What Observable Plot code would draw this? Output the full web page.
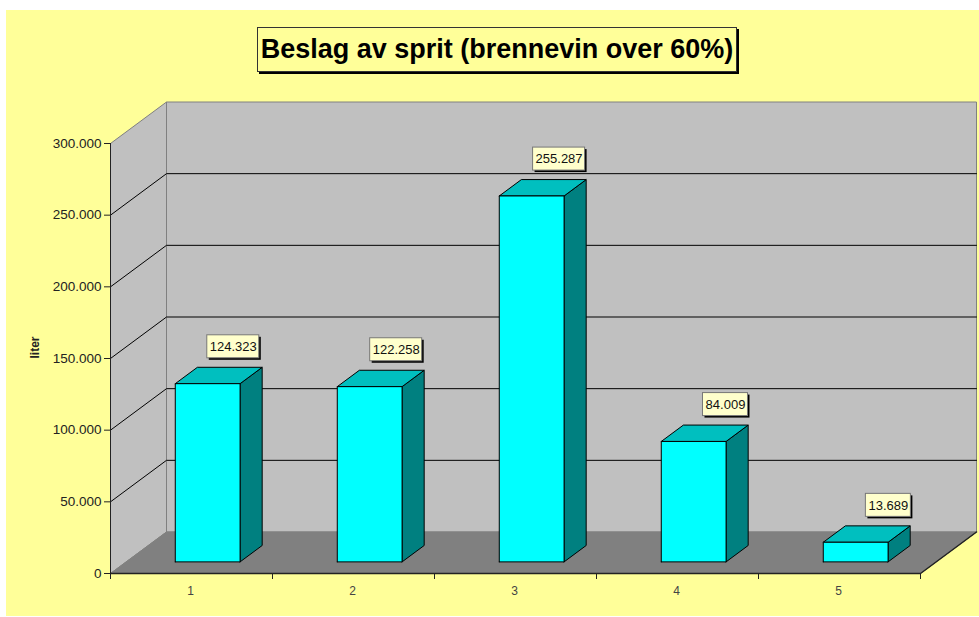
<!DOCTYPE html>
<html>
<head>
<meta charset="utf-8">
<script src="https://cdn.jsdelivr.net/npm/d3@7"></script>
<script src="https://cdn.jsdelivr.net/npm/@observablehq/plot@0.6"></script>
<style>
  html, body { margin: 0; padding: 0; background: #fff; }
  #page { position: relative; width: 979px; height: 617px; overflow: hidden; }
  #yellow { position: absolute; left: 6px; top: 10px; right: 0; bottom: 1px; background: #FFFF99; }
  #chart { position: absolute; left: 0; top: 0; }
  #chart svg { background: transparent; display: block; }
  #title {
    position: absolute; left: 257px; top: 27px; width: 480px; height: 45px; box-sizing: border-box;
    border: 1px solid #333; background: #FFFF99; box-shadow: 2px 2px 0 #000;
    font: bold 27px "Liberation Sans", Arial, sans-serif; color: #000;
    text-align: center; line-height: 43px; white-space: nowrap;
  }
</style>
</head>
<body>
<div id="page">
  <div id="yellow"></div>
  <div id="chart"></div>
  <div id="title">Beslag av sprit (brennevin over 60%)</div>
</div>
<script>
const categories = ["1", "2", "3", "4", "5"];
const values = [124323, 122258, 255287, 84009, 13689];
const gridValues = [50000, 100000, 150000, 200000, 250000];
const yTicks = [0, 50000, 100000, 150000, 200000, 250000, 300000];
const yMax = 300000;

// Depth axis of the oblique projection, in data units per unit of depth
const depthX = 56 / 162;
const depthY = 41.5 / 430 * yMax;
const barZ0 = 0.28, barZ1 = 0.675, barHalf = 0.2, barCentre = 0.503;
const P = (x, y, z) => ({x: x + z * depthX, y: y + z * depthY});
const poly = (id, pts) => pts.map(([x, y, z]) => ({id, ...P(x, y, z)}));
const n = categories.length;

const fmt = v => d3.format(",")(v).replace(/,/g, ".");

const backWall = poly("back", [[0,0,1],[n,0,1],[n,yMax,1],[0,yMax,1],[0,0,1]]);
const sideWall = poly("side", [[0,0,0],[0,0,1],[0,yMax,1],[0,yMax,0],[0,0,0]]);
const floor = poly("floor", [[0,0,0],[n,0,0],[n,0,1],[0,0,1],[0,0,0]]);
const grid = gridValues.flatMap(v => poly("g" + v, [[0,v,0],[0,v,1],[n,v,1]]));

const fronts = [], tops = [], sides = [], labels = [];
values.forEach((v, i) => {
  const l = i + barCentre - barHalf, r = i + barCentre + barHalf;
  fronts.push(...poly("f" + i, [[l,0,barZ0],[r,0,barZ0],[r,v,barZ0],[l,v,barZ0],[l,0,barZ0]]));
  tops.push(...poly("t" + i, [[l,v,barZ0],[r,v,barZ0],[r,v,barZ1],[l,v,barZ1],[l,v,barZ0]]));
  sides.push(...poly("s" + i, [[r,0,barZ0],[r,0,barZ1],[r,v,barZ1],[r,v,barZ0],[r,0,barZ0]]));
  const text = fmt(v);
  const back = P(i + barCentre, v, barZ1);
  const w = (text.length * 7 + 3) / 162;       // box width in category units
  const right = back.x + (29.5 + i * 0.9) / 162;
  const cy = back.y + 20.5 / 430 * yMax;
  const h = 23 / 430 * yMax;
  labels.push({text, x1: right - w, x2: right, y1: cy - h / 2, y2: cy + h / 2, x: right - w / 2, y: cy});
});

const face = (data, fill, stroke = "#000", strokeWidth = 1) =>
  Plot.line(data, {x: "x", y: "y", z: "id", fill, stroke, strokeWidth, curve: "linear"});

const chart = Plot.plot({
  width: 979, height: 617,
  marginLeft: 110, marginRight: 59, marginTop: 143, marginBottom: 44,
  x: {domain: [0, n], axis: null},
  y: {domain: [0, yMax], axis: null},
  style: {background: "transparent", fontFamily: "'Liberation Sans', Arial, sans-serif", fontSize: "13px", color: "#222"},
  marks: [
    face(backWall, "#C0C0C0", "#808080"),
    face(sideWall, "#C0C0C0", "#808080"),
    face(floor, "#808080", "#808080"),
    Plot.line(grid, {x: "x", y: "y", z: "id", stroke: "#000", strokeWidth: 1}),
    // front edge and right edge of the floor, left axis line
    Plot.line(poly("edge", [[0,0,0],[n,0,0],[n,0,1]]), {x: "x", y: "y", z: "id", stroke: "#222"}),
    Plot.ruleX([0], {y1: 0, y2: yMax, stroke: "#222"}),
    Plot.axisY({ticks: yTicks, tickSize: 6, tickPadding: 3, tickFormat: fmt, label: null, fontSize: 13.5}),
    Plot.axisX({ticks: d3.range(n + 1), tickSize: 6, tickFormat: () => "", label: null}),
    Plot.axisX({ticks: categories.map((c, i) => i + 0.5), tickSize: 0, tickPadding: 13, dx: -1, tickFormat: d => categories[d - 0.5], label: null, fontSize: 12, fill: "#444"}),
    Plot.text(["liter"], {frameAnchor: "left", dx: -75, rotate: -90, fontWeight: "bold", fontSize: 12, fill: "#222"}),
    face(sides, "#008080"),
    face(tops, "#00BFBF"),
    face(fronts, "#00FFFF"),
    Plot.rect(labels, {x1: "x1", x2: "x2", y1: "y1", y2: "y2", fill: "#000", dx: 2, dy: 2}),
    Plot.rect(labels, {x1: "x1", x2: "x2", y1: "y1", y2: "y2", fill: "#FFFFCC", stroke: "#777"}),
    Plot.text(labels, {x: "x", y: "y", text: "text", fontSize: 13, fill: "#111"})
  ]
});
document.getElementById("chart").appendChild(chart);
</script>
</body>
</html>
